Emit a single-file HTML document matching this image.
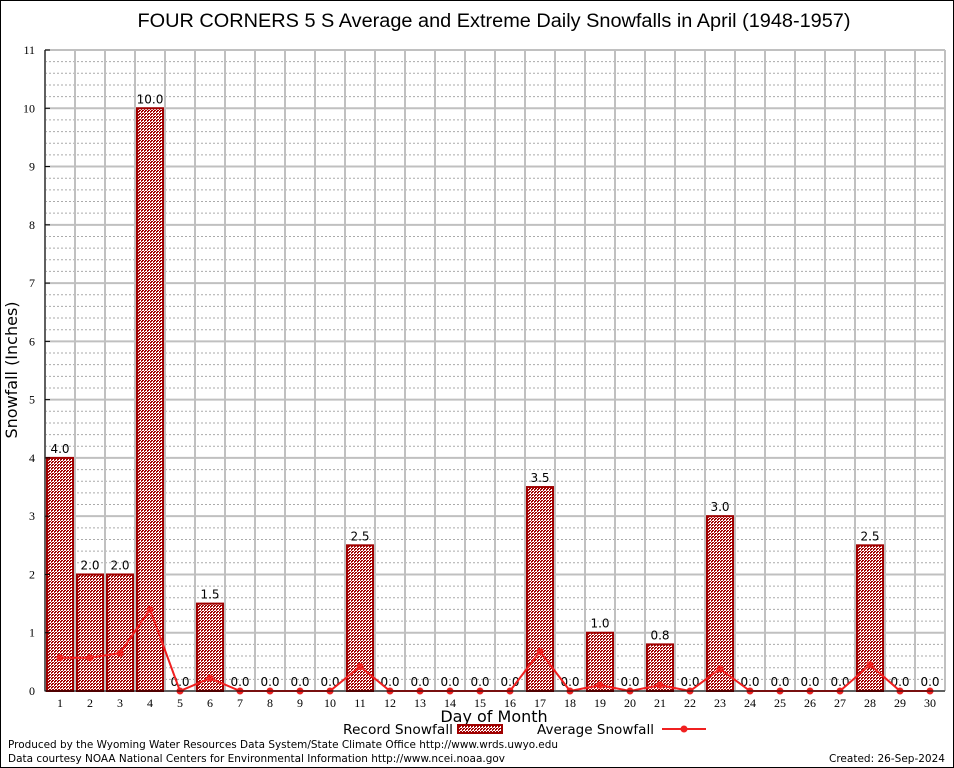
<!DOCTYPE html>
<html><head><meta charset="utf-8"><style>
body{margin:0;background:#fff;font-family:"DejaVu Sans","Liberation Sans",sans-serif}
svg{display:block}
</style></head><body>
<svg id="chart" width="954" height="768" xmlns="http://www.w3.org/2000/svg">
<defs>
<pattern id="hatch" width="3" height="3" patternUnits="userSpaceOnUse">
<rect width="3" height="3" fill="#fff"/><rect width="2" height="1" fill="#a00000"/><rect x="1" y="2" width="2" height="1" fill="#a00000"/><rect x="0" y="1" width="1" height="1" fill="#c02020"/>
</pattern>
</defs>
<rect x="0.5" y="0.5" width="953" height="767" fill="#fff" stroke="#000"/>
<text x="494" y="27" text-anchor="middle" font-size="19" textLength="713" lengthAdjust="spacingAndGlyphs" font-family="Liberation Sans, sans-serif">FOUR CORNERS 5 S Average and Extreme Daily Snowfalls in April (1948-1957)</text>
<g id="grid"></g>
<g id="bars"></g>
<g id="avg"></g>
<g id="axes"></g>
<text x="494" y="722" text-anchor="middle" font-size="16">Day of Month</text>
<text transform="translate(17,370) rotate(-90)" text-anchor="middle" font-size="16">Snowfall (Inches)</text>
<g>
<text x="343" y="734" font-size="13" textLength="110" lengthAdjust="spacingAndGlyphs">Record Snowfall</text>
<rect x="458" y="725" width="44" height="8" fill="url(#hatch)" stroke="#a00000" stroke-width="2"/>
<text x="537" y="734" font-size="13" textLength="117" lengthAdjust="spacingAndGlyphs">Average Snowfall</text>
<line x1="662" y1="729" x2="706" y2="729" stroke="#f02020" stroke-width="2"/>
<circle cx="684" cy="729" r="3.5" fill="#f02020"/>
</g>
<text x="8" y="748" font-size="11" textLength="550" lengthAdjust="spacingAndGlyphs">Produced by the Wyoming Water Resources Data System/State Climate Office http://www.wrds.uwyo.edu</text>
<text x="8" y="762" font-size="11" textLength="497" lengthAdjust="spacingAndGlyphs">Data courtesy NOAA National Centers for Environmental Information http://www.ncei.noaa.gov</text>
<text x="945" y="762" font-size="11" text-anchor="end" textLength="116" lengthAdjust="spacingAndGlyphs">Created:  26-Sep-2024</text>
</svg>
<script>
const days=[1,2,3,4,5,6,7,8,9,10,11,12,13,14,15,16,17,18,19,20,21,22,23,24,25,26,27,28,29,30];
const recordSnow=[4.0,2.0,2.0,10.0,0,1.5,0,0,0,0,2.5,0,0,0,0,0,3.5,0,1.0,0,0.8,0,3.0,0,0,0,0,2.5,0,0];
const avgSnow=[0.57,0.57,0.65,1.4,0,0.22,0,0,0,0,0.42,0,0,0,0,0,0.68,0,0.1,0,0.1,0,0.38,0,0,0,0,0.45,0,0];
const yTicks=[0,1,2,3,4,5,6,7,8,9,10,11];
const L=45,R=945,T=50,B=691,ymax=11;
const xs=d=>L+(d-0.5)*(R-L)/days.length;
const ys=v=>B-v*(B-T)/ymax;
const NS="http://www.w3.org/2000/svg";
function mk(p,tag,at){const e=document.createElementNS(NS,tag);for(const k in at)e.setAttribute(k,at[k]);p.appendChild(e);return e;}
const grid=document.getElementById('grid'),bars=document.getElementById('bars'),avg=document.getElementById('avg'),axes=document.getElementById('axes');
for(let v=0;v<ymax;v+=0.2){const y=ys(v);
 if(Math.abs(v-Math.round(v))>0.01){const l=mk(grid,'line',{x1:L,x2:R,y1:y,y2:y,stroke:'#aaa','stroke-dasharray':'2,2','stroke-width':1});
 
 }}
yTicks.forEach(v=>{const y=ys(v);
 const l=mk(grid,'line',{x1:L,x2:R,y1:y,y2:y,stroke:'#c0c0c0','stroke-width':2});
 
 
 const t=mk(axes,'text',{x:L-10,y:y+4,'text-anchor':'end','font-size':12,'font-family':'Liberation Serif, serif'});t.textContent=v;
 
 
 const tk=mk(axes,'line',{x1:L,x2:L+5,y1:y,y2:y,stroke:'#000'});
 
 });
for(let i=0;i<=days.length;i++){const x=L+i*(R-L)/days.length;
 const l=mk(grid,'line',{x1:x,x2:x,y1:T,y2:B,stroke:'#c0c0c0','stroke-width':2});
 
 }
days.forEach((d,i)=>{const x=xs(d),v=recordSnow[i];
 if(v>0){const r=mk(bars,'rect',{x:x-13,y:ys(v),width:26,height:B-ys(v),fill:'url(#hatch)',stroke:'#a00000','stroke-width':2});
 
 }
 const lb=mk(bars,'text',{x:x,y:ys(v)-5,'text-anchor':'middle','font-size':12});lb.textContent=v.toFixed(1);
 
 
 const t=mk(axes,'text',{x:x,y:B+16,'text-anchor':'middle','font-size':12,'font-family':'Liberation Serif, serif'});t.textContent=d;
 
 });
const pl=mk(avg,'polyline',{points:days.map((d,i)=>xs(d)+','+ys(avgSnow[i])).join(' '),fill:'none',stroke:'#f02020','stroke-width':2});


days.forEach((d,i)=>{const c=mk(avg,'circle',{cx:xs(d),cy:ys(avgSnow[i]),r:3.5,fill:'#f02020'});
 
 });
const ax=mk(axes,'path',{d:`M${L},${T}V${B}H${R}`,fill:'none',stroke:'#000','stroke-width':1});


</script>
</body></html>
